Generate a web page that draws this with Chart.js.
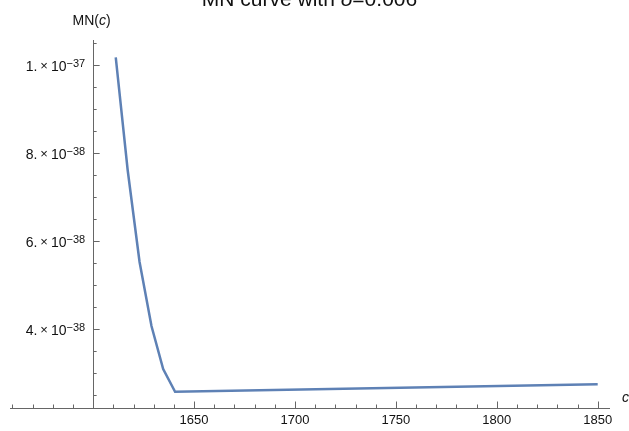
<!DOCTYPE html>
<html>
<head>
<meta charset="utf-8">
<script src="https://cdn.jsdelivr.net/npm/chart.js@4/dist/chart.umd.min.js"></script>
<style>
html,body{margin:0;padding:0;background:#fff;}
#wrap{width:629px;height:431px;position:relative;}
</style>
</head>
<body>
<div id="wrap"><canvas id="c" width="629" height="431"></canvas></div>
<script>
// ---- data ----
const cValues  = [1611.2, 1617.1, 1623.0, 1628.9, 1634.7, 1640.6, 1850];
const mnValues = [1.0164e-37, 7.607e-38, 5.516e-38, 4.061e-38, 3.084e-38, 2.568e-38, 2.736e-38];

// ---- tick labels ----
const xMajorTicks = [1650, 1700, 1750, 1800, 1850];
const xTickLabels = ['1650', '1700', '1750', '1800', '1850'];
const yMajorTicks = [4e-38, 6e-38, 8e-38, 1e-37];
const yTickMantissa = ['4.', '6.', '8.', '1.'];
const yTickExponent = ['\u221238', '\u221238', '\u221238', '\u221237'];

const titleText = 'MN curve with ';
const titleSymbol = '\u03b4';
const titleValue = '=0.006';

const xCross = 1600;
const xMin = 1558.8, xMax = 1856.1;
const yMin = 2.198e-38, yMax = 1.0561e-37;

const xMinorTicks = [];
for (let v = 1560; v <= 1850; v += 10) if (v % 50 !== 0) xMinorTicks.push(v);
const yMinorTicks = [];
for (let k = 5; k <= 21; k++) { const v = k * 0.5e-38; if (k % 4 !== 0) yMinorTicks.push(v); }

const points = cValues.map((c, i) => ({x: c, y: mnValues[i]}));

const AXIS = '#666666';
const TEXT = '#111111';
const FF = '"Liberation Sans", Arial, sans-serif';

const axesPlugin = {
  id: 'mmaAxes',
  beforeDatasetsDraw(chart) {
    const ctx = chart.ctx, xs = chart.scales.x, ys = chart.scales.y, a = chart.chartArea;
    const x0 = xs.getPixelForValue(xCross);
    const y0 = a.bottom;
    ctx.save();
    ctx.strokeStyle = AXIS;
    ctx.lineWidth = 1;
    ctx.beginPath();
    ctx.moveTo(a.left, y0 + 0.5); ctx.lineTo(a.right, y0 + 0.5);
    ctx.moveTo(Math.round(x0) + 0.5, a.top); ctx.lineTo(Math.round(x0) + 0.5, a.bottom);
    ctx.stroke();
    ctx.beginPath();
    xMinorTicks.forEach(v => { const p = Math.round(xs.getPixelForValue(v)) + 0.5; ctx.moveTo(p, y0); ctx.lineTo(p, y0 - 3.5); });
    xMajorTicks.forEach(v => { const p = Math.round(xs.getPixelForValue(v)) + 0.5; ctx.moveTo(p, y0); ctx.lineTo(p, y0 - 6.5); });
    yMinorTicks.forEach(v => { const p = Math.round(ys.getPixelForValue(v)) + 0.5; ctx.moveTo(x0, p); ctx.lineTo(x0 + 3.5, p); });
    yMajorTicks.forEach(v => { const p = Math.round(ys.getPixelForValue(v)) + 0.5; ctx.moveTo(x0, p); ctx.lineTo(x0 + 6.5, p); });
    ctx.stroke();

    ctx.fillStyle = TEXT;
    ctx.font = '13px ' + FF;
    ctx.textAlign = 'center';
    ctx.textBaseline = 'alphabetic';
    xMajorTicks.forEach((v, i) => ctx.fillText(xTickLabels[i], xs.getPixelForValue(v), y0 + 16));

    ctx.textAlign = 'left';
    yMajorTicks.forEach((v, i) => {
      const py = ys.getPixelForValue(v);
      const right = x0 - 8;
      ctx.font = '11px ' + FF;
      const ew = ctx.measureText(yTickExponent[i]).width;
      ctx.fillText(yTickExponent[i], right - ew, py + 2.5);
      ctx.font = '14px ' + FF;
      const bw = ctx.measureText('10').width;
      ctx.fillText('10', right - ew - bw, py + 6);
      ctx.font = '13px ' + FF;
      const tw = ctx.measureText('\u00d7').width;
      const timesX = right - ew - bw - 3 - tw;
      ctx.fillText('\u00d7', timesX, py + 5.5);
      ctx.font = '14px ' + FF;
      const mw = ctx.measureText(yTickMantissa[i]).width;
      ctx.fillText(yTickMantissa[i], timesX - 3 - mw, py + 6);
    });

    ctx.font = '14px ' + FF;
    const w1 = ctx.measureText('MN(').width;
    ctx.font = 'italic 14px ' + FF;
    const w2 = ctx.measureText('c').width;
    ctx.font = '14px ' + FF;
    const w3 = ctx.measureText(')').width;
    const lx = x0 - 1.5 - (w1 + w2 + w3) / 2;
    const ly = 25;
    ctx.fillText('MN(', lx, ly);
    ctx.font = 'italic 14px ' + FF;
    ctx.fillText('c', lx + w1, ly);
    ctx.font = '14px ' + FF;
    ctx.fillText(')', lx + w1 + w2, ly);

    ctx.font = 'italic 14px ' + FF;
    ctx.fillText('c', a.right + 12, y0 - 6);

    ctx.font = '21px ' + FF;
    const t1 = ctx.measureText(titleText).width;
    ctx.font = 'italic 21px ' + FF;
    const t2 = ctx.measureText(titleSymbol).width;
    ctx.font = '21px ' + FF;
    const t3 = ctx.measureText(titleValue).width;
    const tx = 309.5 - (t1 + t2 + t3) / 2;
    const ty = 6;
    ctx.fillText(titleText, tx, ty);
    ctx.font = 'italic 21px ' + FF;
    ctx.fillText(titleSymbol, tx + t1, ty);
    ctx.font = '21px ' + FF;
    ctx.fillText(titleValue, tx + t1 + t2, ty);
    ctx.restore();
  }
};

new Chart(document.getElementById('c'), {
  type: 'scatter',
  data: {
    datasets: [{
      data: points,
      showLine: true,
      borderColor: '#5e81b5',
      borderWidth: 2.5,
      pointRadius: 0,
      pointHoverRadius: 0,
      tension: 0,
      fill: false
    }]
  },
  options: {
    responsive: false,
    animation: false,
    events: [],
    layout: {padding: {left: 10, right: 19, top: 40, bottom: 23}},
    plugins: {legend: {display: false}, tooltip: {enabled: false}, title: {display: false}},
    scales: {
      x: {type: 'linear', min: xMin, max: xMax, display: false},
      y: {type: 'linear', min: yMin, max: yMax, display: false}
    }
  },
  plugins: [axesPlugin]
});
</script>
</body>
</html>
